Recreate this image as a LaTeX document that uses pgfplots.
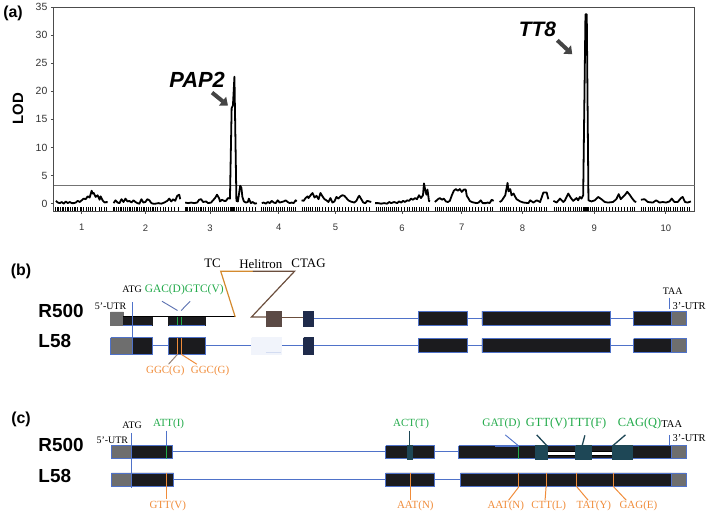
\documentclass[border=0pt]{standalone}
\usepackage{fontspec}
\setmainfont{Liberation Sans}
\newfontfamily\serif{Liberation Serif}
\usepackage{pgfplots}
\pgfplotsset{compat=1.18}
\usetikzlibrary{arrows.meta}

\definecolor{exonblk}{HTML}{1B1B1E}
\definecolor{utrgray}{HTML}{6E6E6E}
\definecolor{bline}{HTML}{4F72C9}
\definecolor{gtxt}{HTML}{22AA4A}
\definecolor{otxt}{HTML}{F08C3A}
\definecolor{tealbox}{HTML}{1E4756}
\definecolor{brownbox}{HTML}{5B4A45}
\definecolor{navybox}{HTML}{1F2B4B}
\definecolor{helbrown}{HTML}{6B4E3D}
\definecolor{helorange}{HTML}{D48A2E}
\definecolor{arrowgray}{HTML}{454545}
\definecolor{calloutblue}{HTML}{5A70B0}

% box: x1, x2, y1, y2, fill
\newcommand{\ebox}[5]{\addplot[draw=bline,line width=0.9pt,fill=#5,line join=miter] coordinates {(#1,#3)(#2,#3)(#2,#4)(#1,#4)(#1,#3)};}
% plain filled box, no blue outline
\newcommand{\pbox}[5]{\addplot[draw=#5,line width=0.5pt,fill=#5] coordinates {(#1,#3)(#2,#3)(#2,#4)(#1,#4)(#1,#3)};}
% segment: x1,y1,x2,y2,style
\newcommand{\seg}[5]{\addplot[#5] coordinates {(#1,#2)(#3,#4)};}

\newcommand{\lbl}[1]{\fontsize{#1}{#1}\serif}

\begin{document}
\begin{tikzpicture}

% ---------- canvas for panels (b) and (c), pixel units ----------
\begin{axis}[at={(0pt,0pt)},anchor=south west,scale only axis,
  width=709pt,height=514pt,xmin=0,xmax=709,ymin=0,ymax=514,
  y dir=reverse,hide axis,clip=false]
\path (axis cs:0,0) rectangle (axis cs:709,514);

% panel letters and axis title of (a)
\node[font=\fontsize{16}{16}\bfseries] at (axis cs:12,12) {(a)};
\node[font=\fontsize{16}{16}\bfseries] at (axis cs:20,272) {(b)};
\node[font=\fontsize{16}{16}\bfseries] at (axis cs:20,420) {(c)};
\node[font=\fontsize{15}{15}\bfseries,rotate=90] at (axis cs:17,108) {LOD};
\node[font=\fontsize{22}{22}\bfseries\itshape] at (axis cs:197,79) {PAP2};
\node[font=\fontsize{21}{21}\bfseries\itshape] at (axis cs:539,28) {TT8};
\draw[arrowgray,line width=4pt,-{Triangle[length=7pt,width=11pt]}] (axis cs:212,92) -- (axis cs:228,105);
\draw[arrowgray,line width=4pt,-{Triangle[length=7pt,width=11pt]}] (axis cs:559,39.5) -- (axis cs:574,53.5);

% ================= panel (b) =================
\node[font=\fontsize{19}{19}\bfseries,anchor=west] at (axis cs:34,311) {R500};
\node[font=\fontsize{19}{19}\bfseries,anchor=west] at (axis cs:34,342) {L58};

% L58 intron line
\seg{152}{346.5}{636}{346.5}{bline,line width=1pt}
% R500 intron lines
\seg{313}{318.7}{636}{318.7}{bline,line width=1pt}
\seg{281.7}{318.5}{304}{318.5}{helbrown,line width=1pt}

% R500 exons
\pbox{110}{123}{312.3}{325.7}{utrgray}
\pbox{123}{152}{317.3}{325.7}{exonblk}
\pbox{168.3}{205}{317.3}{325.7}{exonblk}
\seg{123}{325.7}{152}{325.7}{bline,line width=0.8pt}
\seg{168.3}{325.7}{205}{325.7}{bline,line width=0.8pt}
\seg{177.3}{317.3}{177.3}{325.7}{gtxt,line width=1pt}
\seg{181}{317.3}{181}{325.7}{gtxt,line width=1pt}
\seg{122.7}{317.5}{235.3}{317.5}{black,line width=1pt}
% helitron
\addplot[helorange,line width=1.2pt] coordinates {(235.3,317.5)(220.7,271.5)(253,271.5)};
\addplot[helbrown,line width=1.2pt] coordinates {(253,271.5)(295,271.5)(251.7,317.5)(266.7,317.5)};
\pbox{266.7}{281.7}{311.7}{326.7}{brownbox}
\pbox{304}{313.3}{311.7}{326.7}{navybox}
\ebox{419.3}{468.3}{311.7}{325.7}{exonblk}
\ebox{483.3}{612.3}{311.7}{325.7}{exonblk}
\ebox{635.7}{673.3}{311.7}{325.7}{exonblk}
\ebox{673.3}{688.3}{311.7}{325.7}{utrgray}

% L58 exons
\ebox{110}{131.7}{338.3}{355}{utrgray}
\ebox{131.7}{152}{338.3}{355}{exonblk}
\ebox{168.3}{205}{338.3}{355}{exonblk}
\seg{177.3}{338.3}{177.3}{355}{otxt,line width=1pt}
\seg{181}{338.3}{181}{355}{otxt,line width=1pt}
\pbox{251.7}{281.7}{338.3}{355}{bline!8}
\seg{266}{353}{281.7}{353}{bline!25,line width=1pt}
\pbox{304}{313.3}{338.3}{355}{navybox}
\ebox{419.3}{468.3}{339.3}{353.3}{exonblk}
\ebox{483.3}{612.3}{339.3}{353.3}{exonblk}
\ebox{635.7}{673.3}{339.3}{353.3}{exonblk}
\ebox{673.3}{688.3}{339.3}{353.3}{utrgray}

% markers and callouts (b)
\seg{131.7}{302.7}{131.7}{355}{bline,line width=1pt}
\seg{671.7}{298}{671.7}{310}{bline,line width=1pt}
\seg{161.7}{301.7}{177.3}{311}{calloutblue,line width=0.9pt}
\seg{190}{301.7}{181}{311}{calloutblue,line width=0.9pt}
\seg{177.3}{355}{168.3}{365}{helbrown!70,line width=1pt}
\seg{181}{355}{196.7}{365}{otxt,line width=1pt}

\node[font=\lbl{10}] at (axis cs:110,306.5) {5’-UTR};
\node[font=\lbl{10}] at (axis cs:131.7,290) {ATG};
\node[font=\lbl{11.5},text=gtxt] at (axis cs:184,290) {GAC(D)GTC(V)};
\node[font=\lbl{13}] at (axis cs:212.5,264) {TC};
\node[font=\lbl{13}] at (axis cs:261,264) {Helitron};
\node[font=\lbl{13}] at (axis cs:309,264) {CTAG};
\node[font=\lbl{11},text=otxt] at (axis cs:165,371.7) {GGC(G)};
\node[font=\lbl{11},text=otxt] at (axis cs:210,371.7) {GGC(G)};
\node[font=\lbl{10}] at (axis cs:675,291.5) {TAA};
\node[font=\lbl{10.5}] at (axis cs:691.5,306.5) {3’-UTR};

% ================= panel (c) =================
\node[font=\fontsize{19}{19}\bfseries,anchor=west] at (axis cs:34,446) {R500};
\node[font=\fontsize{19}{19}\bfseries,anchor=west] at (axis cs:34,477.5) {L58};

\seg{172.3}{452.5}{386.7}{452.5}{bline,line width=1pt}
\seg{436}{452.5}{460}{452.5}{bline,line width=1pt}
\seg{173.3}{480.5}{386.7}{480.5}{bline,line width=1pt}
\seg{436}{480.5}{461.7}{480.5}{bline,line width=1pt}

% R500
\ebox{110.7}{130.7}{446.7}{460}{utrgray}
\ebox{130.7}{172.3}{446.7}{460}{exonblk}
\ebox{386.7}{436}{446.7}{460}{exonblk}
\ebox{460}{673.3}{446.7}{460}{exonblk}
\ebox{673.3}{688.3}{446.7}{460}{utrgray}
\pbox{408.3}{413.3}{446.7}{460}{tealbox}
\seg{166.3}{446.7}{166.3}{460}{gtxt,line width=1.2pt}
\seg{520}{446.7}{520}{460}{gtxt,line width=1.2pt}
\addplot[draw=black,line width=0.6pt,fill=white] coordinates {(549,452.3)(577.3,452.3)(577.3,456.7)(549,456.7)(549,452.3)};
\addplot[draw=black,line width=0.6pt,fill=white] coordinates {(592.7,452.3)(614,452.3)(614,456.7)(592.7,456.7)(592.7,452.3)};
\pbox{536.7}{549}{446.7}{460}{tealbox}
\pbox{577.3}{592.7}{446.7}{460}{tealbox}
\pbox{614}{634}{446.7}{460}{tealbox}

% L58
\ebox{110.7}{130.7}{474.3}{488.3}{utrgray}
\ebox{130.7}{173.3}{474.3}{488.3}{exonblk}
\ebox{386.7}{436}{474.3}{488.3}{exonblk}
\ebox{461.7}{673.3}{474.3}{488.3}{exonblk}
\ebox{673.3}{688.3}{474.3}{488.3}{utrgray}

% markers and callouts (c)
\seg{130.7}{434}{130.7}{489.3}{bline,line width=1pt}
\seg{166.3}{431.7}{166.3}{446.7}{bline,line width=1pt}
\seg{166}{474.3}{166}{500}{otxt,line width=1pt}
\seg{410.7}{431.7}{410.7}{446.7}{tealbox,line width=1.2pt}
\seg{411}{474.3}{411}{501.7}{otxt,line width=1pt}
\seg{506.7}{436}{520}{447}{bline,line width=0.9pt}
\seg{496.7}{447.3}{520}{447.3}{bline,line width=0.9pt}
\seg{538.3}{436}{548.3}{446.7}{tealbox,line width=1.3pt}
\seg{586.7}{436.5}{584}{446.7}{tealbox,line width=1.3pt}
\seg{627.5}{436}{615}{446.7}{tealbox,line width=1.3pt}
\seg{671.7}{436}{671.7}{446}{bline,line width=1pt}
\seg{520.3}{474.3}{520.3}{488.3}{otxt,line width=1pt}
\seg{547.7}{474.3}{547.7}{488.3}{otxt,line width=1pt}
\seg{578.7}{474.3}{578.7}{488.3}{otxt,line width=1pt}
\seg{615.7}{474.3}{615.7}{488.3}{otxt,line width=1pt}
\seg{520.3}{488.3}{510}{501.7}{otxt,line width=1pt}
\seg{547.7}{488.3}{546.7}{501.7}{otxt,line width=1pt}
\seg{578.7}{488.3}{590}{501.7}{otxt,line width=1pt}
\seg{615.7}{488.3}{628.3}{501.7}{otxt,line width=1pt}

\node[font=\lbl{10}] at (axis cs:131.7,426.7) {ATG};
\node[font=\lbl{10}] at (axis cs:111.8,441.5) {5’-UTR};
\node[font=\lbl{11},text=gtxt] at (axis cs:168.3,425) {ATT(I)};
\node[font=\lbl{11},text=otxt] at (axis cs:167.5,507.3) {GTT(V)};
\node[font=\lbl{11},text=gtxt] at (axis cs:412,425) {ACT(T)};
\node[font=\lbl{11},text=otxt] at (axis cs:416.3,507.3) {AAT(N)};
\node[font=\lbl{11.5},text=gtxt] at (axis cs:502.8,425) {GAT(D)};
\node[font=\lbl{12.5},text=gtxt] at (axis cs:548.3,425) {GTT(V)};
\node[font=\lbl{12.5},text=gtxt] at (axis cs:589,425) {TTT(F)};
\node[font=\lbl{12.5},text=gtxt] at (axis cs:641.7,425) {CAG(Q)};
\node[font=\lbl{10.5}] at (axis cs:674,425.5) {TAA};
\node[font=\lbl{10.5}] at (axis cs:691.5,439) {3’-UTR};
\node[font=\lbl{11},text=otxt] at (axis cs:507.2,507.3) {AAT(N)};
\node[font=\lbl{11},text=otxt] at (axis cs:550.3,507.3) {CTT(L)};
\node[font=\lbl{11},text=otxt] at (axis cs:595.8,507.3) {TAT(Y)};
\node[font=\lbl{11},text=otxt] at (axis cs:640.5,507.3) {GAG(E)};
\end{axis}

% ================= panel (a): LOD scan =================
\begin{axis}[at={(53pt,303pt)},anchor=south west,scale only axis,
  width=644pt,height=205pt,
  xmin=53,xmax=697,ymin=-1.3,ymax=35,
  ytick={0,5,...,35},
  xtick={81,145,210,279,336,403,463,524,596,668},
  xticklabels={1,2,3,4,5,6,7,8,9,10},
  ytick pos=left,xtick pos=bottom,tick align=outside,
  major tick length=3pt,
  axis line style={black!70,line width=0.8pt},
  tick style={black!70,line width=0.7pt},
  yticklabel style={font=\fontsize{10.5}{10.5}\selectfont,text=black!80},
  xticklabel style={font=\fontsize{9.5}{9.5}\selectfont,text=black!80,yshift=-7pt},
  /pgf/number format/assume math mode=true]
\addplot[black!55,line width=0.8pt] coordinates {(53,3.2)(697,3.2)};
% marker rug
\addplot[only marks,mark=|,mark size=1.85pt,mark options={line width=0.9pt,black}] coordinates {
(55,-0.97)(57,-0.97)(58,-0.97)(60,-0.97)(62,-0.97)(63,-0.97)(65,-0.97)(67,-0.97)(68,-0.97)(70,-0.97)(72,-0.97)(74,-0.97)(75,-0.97)(77,-0.97)(80,-0.97)(81,-0.97)(83,-0.97)(86,-0.97)(88,-0.97)(90,-0.97)(92,-0.97)(95,-0.97)(99,-0.97)(101,-0.97)(104,-0.97)(106,-0.97)
(113,-0.97)(114,-0.97)(116,-0.97)(118,-0.97)(120,-0.97)(121,-0.97)(123,-0.97)(125,-0.97)(127,-0.97)(129,-0.97)(130,-0.97)(132,-0.97)(134,-0.97)(136,-0.97)(137,-0.97)(139,-0.97)(141,-0.97)(143,-0.97)(144,-0.97)(146,-0.97)(148,-0.97)(150,-0.97)(152,-0.97)(153,-0.97)(155,-0.97)(157,-0.97)(160,-0.97)(163,-0.97)(165,-0.97)(168,-0.97)(171,-0.97)(174,-0.97)(178,-0.97)
(185,-0.97)(186,-0.97)(187,-0.97)(189,-0.97)(190,-0.97)(192,-0.97)(194,-0.97)(196,-0.97)(198,-0.97)(200,-0.97)(201,-0.97)(203,-0.97)(205,-0.97)(208,-0.97)(210,-0.97)(212,-0.97)(214,-0.97)(216,-0.97)(218,-0.97)(220,-0.97)(222,-0.97)(224,-0.97)(226,-0.97)(228,-0.97)(230,-0.97)(231,-0.97)(233,-0.97)(234,-0.97)(235,-0.97)(237,-0.97)(239,-0.97)(241,-0.97)(244,-0.97)(247,-0.97)(250,-0.97)(253,-0.97)(256,-0.97)
(262,-0.97)(264,-0.97)(266,-0.97)(268,-0.97)(270,-0.97)(272,-0.97)(274,-0.97)(277,-0.97)(279,-0.97)(281,-0.97)(283,-0.97)(285,-0.97)(288,-0.97)(290,-0.97)(292,-0.97)(294,-0.97)(296,-0.97)
(303,-0.97)(305,-0.97)(307,-0.97)(309,-0.97)(311,-0.97)(313,-0.97)(316,-0.97)(318,-0.97)(320,-0.97)(323,-0.97)(326,-0.97)(329,-0.97)(332,-0.97)(335,-0.97)(338,-0.97)(340,-0.97)(343,-0.97)(346,-0.97)(349,-0.97)(352,-0.97)(355,-0.97)(358,-0.97)(361,-0.97)(364,-0.97)(367,-0.97)(370,-0.97)
(377,-0.97)(379,-0.97)(381,-0.97)(383,-0.97)(385,-0.97)(387,-0.97)(389,-0.97)(391,-0.97)(393,-0.97)(395,-0.97)(397,-0.97)(399,-0.97)(402,-0.97)(405,-0.97)(408,-0.97)(410,-0.97)(413,-0.97)(415,-0.97)(417,-0.97)(420,-0.97)(422,-0.97)(424,-0.97)(427,-0.97)(429,-0.97)
(437,-0.97)(439,-0.97)(441,-0.97)(443,-0.97)(445,-0.97)(448,-0.97)(450,-0.97)(452,-0.97)(454,-0.97)(456,-0.97)(458,-0.97)(460,-0.97)(462,-0.97)(464,-0.97)(466,-0.97)(468,-0.97)(471,-0.97)(474,-0.97)(477,-0.97)(480,-0.97)(483,-0.97)(486,-0.97)(489,-0.97)(492,-0.97)(494,-0.97)
(502,-0.97)(504,-0.97)(506,-0.97)(508,-0.97)(510,-0.97)(512,-0.97)(515,-0.97)(518,-0.97)(521,-0.97)(523,-0.97)(526,-0.97)(528,-0.97)(531,-0.97)(533,-0.97)(536,-0.97)(538,-0.97)(541,-0.97)(543,-0.97)(546,-0.97)(548,-0.97)
(556,-0.97)(558,-0.97)(560,-0.97)(562,-0.97)(565,-0.97)(567,-0.97)(570,-0.97)(572,-0.97)(575,-0.97)(577,-0.97)(579,-0.97)(581,-0.97)(583,-0.97)(585,-0.97)(586,-0.97)(587,-0.97)(588,-0.97)(589,-0.97)(590,-0.97)(592,-0.97)(594,-0.97)(596,-0.97)(598,-0.97)(600,-0.97)(603,-0.97)(605,-0.97)(608,-0.97)(611,-0.97)(614,-0.97)(617,-0.97)(620,-0.97)(623,-0.97)(626,-0.97)(629,-0.97)(632,-0.97)(635,-0.97)(637,-0.97)
(644,-0.97)(646,-0.97)(648,-0.97)(651,-0.97)(653,-0.97)(655,-0.97)(657,-0.97)(660,-0.97)(662,-0.97)(664,-0.97)(667,-0.97)(669,-0.97)(671,-0.97)(673,-0.97)(676,-0.97)(678,-0.97)(680,-0.97)(683,-0.97)(685,-0.97)(687,-0.97)(690,-0.97)(692,-0.97)
};
% LOD profiles, one per chromosome
\pgfplotsset{lodline/.style={black,line width=1.8pt,line join=round,mark=none}}
\addplot[lodline] coordinates {(55,0.5)(57,0.2)(59,0.1)(61,0.3)(63,0.0)(65,0.4)(67,0.1)(69,0.3)(71,0.1)(73,0.1)(75,0.2)(77,0.5)(79,0.3)(81,0.6)(83,0.9)(85,0.8)(87,1.3)(89,1.1)(91,2.3)(92,1.8)(93,1.9)(95,1.2)(97,1.5)(99,0.7)(100,1.3)(102,0.6)(104,0.2)(106,0.3)(107,0.2)};
\addplot[lodline] coordinates {(113,0.1)(115,0.6)(117,0.2)(119,0.1)(121,0.8)(123,0.3)(125,0.9)(127,0.4)(129,0.5)(131,0.2)(133,0.6)(135,0.3)(137,0.1)(139,0.0)(141,0.8)(143,0.2)(145,0.3)(147,0.8)(149,0.6)(151,0.1)(153,0.0)(155,0.0)(158,0.1)(161,0.0)(164,0.2)(167,0.5)(169,0.9)(171,0.4)(173,0.8)(175,0.5)(177,1.4)(179,1.6)(180,0.8)};
\addplot[lodline] coordinates {(185,0.2)(188,0.1)(191,0.2)(194,0.1)(197,0.2)(199,0.7)(201,0.8)(203,0.3)(206,0.4)(208,0.1)(211,0.2)(213,0.6)(215,1.0)(217,1.6)(219,1.0)(220,0.4)(222,0.7)(224,0.5)(226,0.5)(228,1.0)(230,0.9)(231.7,17.0)(233,17.5)(234.5,22.6)(236.5,0.5)(238,0.4)(240.3,3.2)(241.5,2.8)(242.5,1.2)(244,0.4)(246,0.2)(248,0.3)(249,0.9)(251,0.1)(253,0.3)(255,0.0)(257,0.1)};
\addplot[lodline] coordinates {(262,0.1)(264,0.2)(266,0.0)(268,0.3)(270,0.1)(272,0.5)(274,0.2)(276,0.1)(278,0.6)(280,0.2)(282,0.3)(284,0.4)(286,0.6)(288,0.3)(290,0.1)(292,0.2)(294,0.1)(296,0.6)(297,0.4)};
\addplot[lodline] coordinates {(302,0.6)(304,0.5)(306,1.0)(308,1.3)(309,1.0)(311,1.5)(313,1.9)(315,1.1)(317,1.4)(319,0.8)(321,1.9)(323,1.3)(325,0.8)(327,0.6)(329,0.3)(331,1.0)(333,0.2)(335,0.4)(337,1.2)(339,0.9)(341,1.3)(343,1.5)(345,1.4)(347,1.0)(349,0.6)(351,0.4)(353,0.3)(355,0.2)(357,0.5)(359,1.2)(360,1.4)(362,0.8)(364,0.2)(366,0.1)(368,0.5)(370,0.4)(372,0.3)};
\addplot[lodline] coordinates {(376,0.1)(379,0.1)(382,0.0)(385,0.1)(388,0.0)(390,0.3)(392,0.1)(395,0.3)(398,0.1)(400,0.4)(402,0.2)(404,0.5)(406,0.3)(408,0.6)(410,0.5)(412,0.9)(414,0.7)(416,1.0)(418,0.8)(420,1.5)(422,1.0)(424,1.5)(425,3.6)(426.5,2.2)(427.5,1.6)(428.5,2.5)(430,0.5)(431,0.4)};
\addplot[lodline] coordinates {(436,0.3)(439,0.8)(441,1.0)(443,0.7)(445,0.9)(447,0.4)(449,0.3)(451,0.5)(453,1.5)(455,2.3)(457,2.6)(459,2.3)(461,2.6)(463,2.1)(465,2.5)(467,2.5)(468,1.4)(469.5,1.0)(471,0.5)(473,0.3)(475,0.2)(478,0.1)(480,0.2)(482,0.6)(484,0.1)(487,0.1)(489,0.2)(491,0.1)(493,0.7)(495,0.5)};
\addplot[lodline] coordinates {(501,0.3)(503,0.5)(506.7,1.5)(509,3.7)(510,2.2)(511.7,2.6)(513,1.5)(515,1.8)(518,0.8)(521.7,0.4)(525,0.2)(530,0.1)(531.7,0.6)(535,0.2)(538.3,0.6)(541.7,0.3)(545,2.0)(548.3,2.0)(550,0.8)};
\addplot[lodline] coordinates {(555,0.5)(558.3,0.2)(561.7,0.9)(565,0.3)(566.7,0.6)(570,1.8)(572.7,1.0)(575,0.5)(578.3,1.0)(580,0.6)(581.7,1.2)(583.3,0.9)(585,1.5)(587.3,33.7)(588.6,33.7)(590.3,0.6)(593.3,0.4)(596.7,0.6)(600,1.2)(603.3,0.8)(606.7,0.3)(610,0.2)(615,0.3)(618.3,0.8)(620.7,1.7)(622.7,0.8)(626.7,1.5)(629.3,2.1)(631.7,1.6)(634,1.0)(636.7,0.4)(638.3,0.3)};
\addplot[lodline] coordinates {(643,0.7)(646.7,0.8)(650,0.3)(655,0.2)(658.3,0.6)(661.7,0.2)(665,0.3)(668.3,0.2)(671.7,0.4)(674,0.9)(676.7,0.3)(680,0.3)(683.3,1.0)(685,1.2)(687.3,0.3)(690,0.2)(693.3,0.4)};
\end{axis}
\end{tikzpicture}
\end{document}
